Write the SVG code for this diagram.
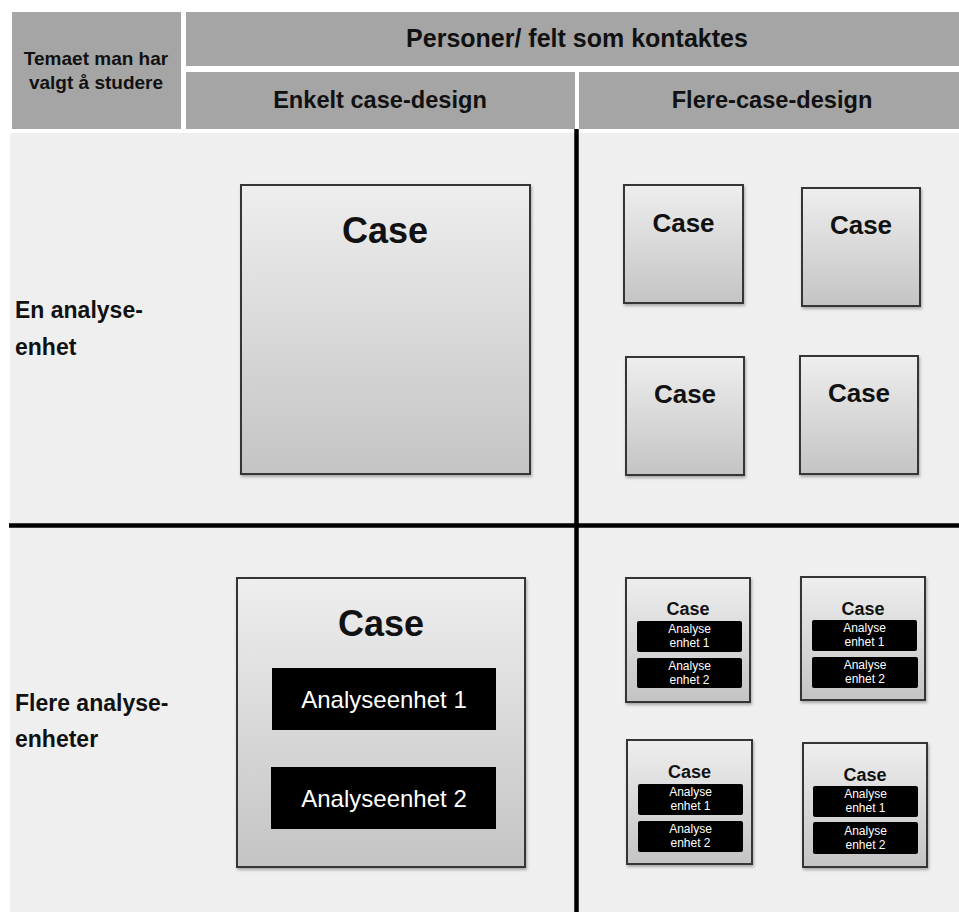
<svg xmlns="http://www.w3.org/2000/svg" width="959" height="912" viewBox="0 0 959 912">
<style>
.hdr{fill:#a5a5a5}
.ht{font-family:"Liberation Sans",Arial,sans-serif;font-weight:bold;fill:#111;text-anchor:middle}
.lbl{font-family:"Liberation Sans",Arial,sans-serif;font-weight:bold;fill:#111;font-size:23px}
.box{fill:url(#g);stroke:#353535;stroke-width:2;filter:url(#sh)}
.ct{font-family:"Liberation Sans",Arial,sans-serif;font-weight:bold;fill:#111;text-anchor:middle}
.blk{fill:#000}
.wt{font-family:"Liberation Sans",Arial,sans-serif;fill:#fff;text-anchor:middle}
.sep{stroke:#000;stroke-width:4.5}
</style>
<defs>
<linearGradient id="g" x1="0" y1="0" x2="0" y2="1">
<stop offset="0" stop-color="#eeeeee"/>
<stop offset="1" stop-color="#c4c4c4"/>
</linearGradient>
<filter id="sh" x="-10%" y="-10%" width="125%" height="125%">
<feDropShadow dx="1" dy="2" stdDeviation="1.5" flood-color="#000" flood-opacity="0.3"/>
</filter>
</defs>
<rect width="959" height="912" fill="#fff"/>
<g id="header">
<rect class="hdr" x="12" y="12" width="169" height="117"/>
<rect class="hdr" x="186" y="12" width="773" height="54"/>
<rect class="hdr" x="186" y="72" width="389" height="57"/>
<rect class="hdr" x="579" y="72" width="380" height="57"/>
<text class="ht" x="96" y="65" font-size="19">Temaet man har</text>
<text class="ht" x="96" y="89" font-size="19">valgt å studere</text>
<text class="ht" x="577" y="47" font-size="25">Personer/ felt som kontaktes</text>
<text class="ht" x="380" y="108" font-size="23.6">Enkelt case-design</text>
<text class="ht" x="772" y="108" font-size="23.6">Flere-case-design</text>
</g>
<rect x="10" y="133" width="949" height="779" fill="#efefef"/>
<g id="connectors">
<line class="sep" x1="576.5" y1="129" x2="576.5" y2="912"/>
<line class="sep" x1="9" y1="525.5" x2="959" y2="525.5"/>
</g>
<g id="row1-label">
<text class="lbl" x="15" y="318">En analyse-</text>
<text class="lbl" x="15" y="355">enhet</text>
</g>
<g id="row2-label">
<text class="lbl" x="15" y="711">Flere analyse-</text>
<text class="lbl" x="15" y="747">enheter</text>
</g>
<g id="single-case">
<rect class="box" x="241" y="185" width="289" height="289"/>
<text class="ct" x="385" y="243" font-size="36">Case</text>
</g>
<g id="multi-case-1">
<rect class="box" x="624" y="185" width="119" height="118"/>
<text class="ct" x="683.5" y="232" font-size="26">Case</text>
</g>
<g id="multi-case-2">
<rect class="box" x="802" y="188" width="118" height="118"/>
<text class="ct" x="861" y="234" font-size="26">Case</text>
</g>
<g id="multi-case-3">
<rect class="box" x="626" y="357" width="118" height="118"/>
<text class="ct" x="685" y="403" font-size="26">Case</text>
</g>
<g id="multi-case-4">
<rect class="box" x="800" y="356" width="118" height="118"/>
<text class="ct" x="859" y="402" font-size="26">Case</text>
</g>
<g id="single-case-units">
<rect class="box" x="237" y="578" width="288" height="289"/>
<text class="ct" x="381" y="636" font-size="36">Case</text>
<rect class="blk" x="272" y="668" width="224" height="62"/>
<text class="wt" x="384" y="708" font-size="24">Analyseenhet 1</text>
<rect class="blk" x="271" y="767" width="225" height="62"/>
<text class="wt" x="384" y="807" font-size="24">Analyseenhet 2</text>
</g>
<g id="multi-units-1">
<rect class="box" x="626" y="578" width="124" height="124"/>
<text class="ct" x="688" y="615" font-size="18">Case</text>
<rect class="blk" x="637" y="621" width="105" height="31" rx="2"/>
<text class="wt" x="689.5" y="633" font-size="12">Analyse</text>
<text class="wt" x="689.5" y="647" font-size="12">enhet 1</text>
<rect class="blk" x="637" y="658" width="105" height="30" rx="2"/>
<text class="wt" x="689.5" y="670" font-size="12">Analyse</text>
<text class="wt" x="689.5" y="684" font-size="12">enhet 2</text>
</g>
<g id="multi-units-2">
<rect class="box" x="801" y="577" width="124" height="123"/>
<text class="ct" x="863" y="615" font-size="18">Case</text>
<rect class="blk" x="812" y="620" width="105" height="31" rx="2"/>
<text class="wt" x="864.5" y="632" font-size="12">Analyse</text>
<text class="wt" x="864.5" y="646" font-size="12">enhet 1</text>
<rect class="blk" x="812" y="657" width="106" height="31" rx="2"/>
<text class="wt" x="865" y="669" font-size="12">Analyse</text>
<text class="wt" x="865" y="683" font-size="12">enhet 2</text>
</g>
<g id="multi-units-3">
<rect class="box" x="627" y="740" width="125" height="124"/>
<text class="ct" x="689.5" y="778" font-size="18">Case</text>
<rect class="blk" x="638" y="784" width="105" height="31" rx="2"/>
<text class="wt" x="690.5" y="796" font-size="12">Analyse</text>
<text class="wt" x="690.5" y="810" font-size="12">enhet 1</text>
<rect class="blk" x="638" y="821" width="105" height="31" rx="2"/>
<text class="wt" x="690.5" y="833" font-size="12">Analyse</text>
<text class="wt" x="690.5" y="847" font-size="12">enhet 2</text>
</g>
<g id="multi-units-4">
<rect class="box" x="803" y="743" width="124" height="124"/>
<text class="ct" x="865" y="781" font-size="18">Case</text>
<rect class="blk" x="813" y="786" width="105" height="31" rx="2"/>
<text class="wt" x="865.5" y="798" font-size="12">Analyse</text>
<text class="wt" x="865.5" y="812" font-size="12">enhet 1</text>
<rect class="blk" x="813" y="822" width="105" height="32" rx="2"/>
<text class="wt" x="865.5" y="835" font-size="12">Analyse</text>
<text class="wt" x="865.5" y="849" font-size="12">enhet 2</text>
</g>
</svg>
